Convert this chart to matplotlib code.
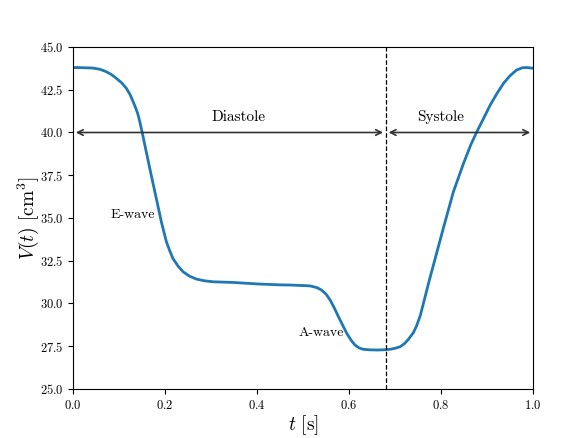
import matplotlib
matplotlib.use("Agg")
import matplotlib.pyplot as plt
import numpy as np

plt.rcParams['font.family'] = 'serif'
plt.rcParams['font.serif'] = ['cmr10']
plt.rcParams['mathtext.fontset'] = 'cm'
plt.rcParams['axes.formatter.use_mathtext'] = True

# volume curve
t = np.array([0.0, 0.02, 0.043, 0.058, 0.072, 0.084, 0.094, 0.106, 0.116, 0.124,
              0.130, 0.136, 0.141, 0.145, 0.150, 0.159, 0.170, 0.181, 0.192, 0.203,
              0.210, 0.217, 0.228, 0.239, 0.253, 0.268, 0.285, 0.304, 0.348, 0.403,
              0.45, 0.472, 0.515, 0.530, 0.540, 0.550, 0.559, 0.568, 0.577, 0.586,
              0.595, 0.604, 0.613, 0.622, 0.631, 0.645, 0.660, 0.675, 0.689, 0.700,
              0.711, 0.720, 0.729, 0.740, 0.747, 0.755, 0.765, 0.774, 0.783, 0.805,
              0.827, 0.849, 0.865, 0.878, 0.893, 0.907, 0.922, 0.936, 0.950, 0.964,
              0.976, 0.986, 1.0])
V = np.array([43.80, 43.79, 43.77, 43.70, 43.56, 43.38, 43.17, 42.90, 42.58, 42.22,
              41.84, 41.45, 41.08, 40.65, 40.05, 38.90, 37.51, 36.15, 34.78, 33.61,
              33.10, 32.64, 32.20, 31.86, 31.60, 31.43, 31.33, 31.27, 31.23, 31.14,
              31.09, 31.08, 31.03, 30.93, 30.79, 30.55, 30.20, 29.74, 29.23, 28.74,
              28.26, 27.87, 27.57, 27.40, 27.32, 27.29, 27.28, 27.29, 27.32, 27.38,
              27.47, 27.64, 27.90, 28.30, 28.70, 29.30, 30.35, 31.30, 32.20, 34.40,
              36.54, 38.20, 39.30, 40.05, 40.85, 41.61, 42.30, 42.88, 43.32, 43.65,
              43.78, 43.80, 43.76])

t_split = 0.68
arrow_y = 40.0

fig = plt.figure(figsize=(5.86, 4.38), dpi=100)
ax = fig.add_axes([0.1246, 0.1119, 0.785, 0.7808])
ax.plot(t, V, color='#1f77b4', lw=2)
ax.axvline(t_split, color='k', ls='--', lw=0.9)

ax.annotate('', xy=(0.0, arrow_y), xytext=(t_split, arrow_y),
            arrowprops=dict(arrowstyle='<->', color='#333333', lw=1.2))
ax.annotate('', xy=(t_split, arrow_y), xytext=(1.0, arrow_y),
            arrowprops=dict(arrowstyle='<->', color='#333333', lw=1.2))
ax.text(0.36, 40.5, 'Diastole', ha='center', va='bottom', fontsize=11)
ax.text(0.80, 40.5, 'Systole', ha='center', va='bottom', fontsize=11)
ax.text(0.13, 35.2, 'E-wave', ha='center', va='center', fontsize=10)
ax.text(0.54, 28.3, 'A-wave', ha='center', va='center', fontsize=10)

ax.set_xlim(0, 1)
ax.set_ylim(25, 45)
ax.set_xlabel(r'$t\ [\mathrm{s}]$', fontsize=14, labelpad=1)
ax.set_ylabel(r'$V(t)\ [\mathrm{cm}^3]$', fontsize=14, labelpad=-1)
ax.tick_params(labelsize=9)

fig.savefig('out.png', dpi=100)
